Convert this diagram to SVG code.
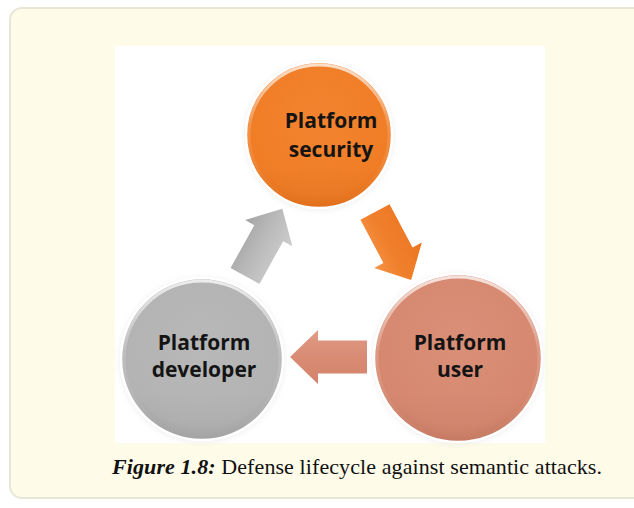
<svg xmlns="http://www.w3.org/2000/svg" width="634" height="508" viewBox="0 0 634 508">
  <defs>
    <style>
      .label { font-family: "Open Sans", "Liberation Sans", sans-serif; font-weight: 700; font-size: 21px; fill: #141414; text-anchor: middle; }
      .caption { font-family: "Liberation Serif", "DejaVu Serif", serif; font-size: 22px; fill: #111111; }
      .caption-lead { font-weight: 700; font-style: italic; }
      .rim { fill: none; stroke: url(#rimLight); stroke-width: 3; }
      .edge { fill: none; stroke: #ffffff; stroke-width: 2.5; }
      .shade { fill: url(#shadeLow); }
    </style>

    <!-- circle fills -->
    <radialGradient id="fillOrange" cx="0.5" cy="0.4" r="0.6">
      <stop offset="0" stop-color="#f3842f"/>
      <stop offset="0.85" stop-color="#f07d26"/>
      <stop offset="1" stop-color="#ea731c"/>
    </radialGradient>
    <radialGradient id="fillPink" cx="0.5" cy="0.4" r="0.6">
      <stop offset="0" stop-color="#da8f78"/>
      <stop offset="0.85" stop-color="#d6886f"/>
      <stop offset="1" stop-color="#cd7e66"/>
    </radialGradient>
    <radialGradient id="fillGrey" cx="0.5" cy="0.4" r="0.6">
      <stop offset="0" stop-color="#b8b8b8"/>
      <stop offset="0.85" stop-color="#b3b3b3"/>
      <stop offset="1" stop-color="#a8a8a8"/>
    </radialGradient>

    <!-- glossy bevel: bright upper rim fading out toward the bottom -->
    <linearGradient id="rimLight" x1="0" y1="0" x2="0" y2="1">
      <stop offset="0" stop-color="#ffffff" stop-opacity="0.75"/>
      <stop offset="0.45" stop-color="#ffffff" stop-opacity="0.15"/>
      <stop offset="1" stop-color="#ffffff" stop-opacity="0"/>
    </linearGradient>
    <linearGradient id="shadeLow" x1="0" y1="0" x2="0" y2="1">
      <stop offset="0" stop-color="#000000" stop-opacity="0"/>
      <stop offset="0.7" stop-color="#000000" stop-opacity="0"/>
      <stop offset="1" stop-color="#000000" stop-opacity="0.04"/>
    </linearGradient>

    <!-- arrow fills, running across the shaft width -->
    <linearGradient id="arrowOrange" x1="0" y1="0" x2="0" y2="1">
      <stop offset="0" stop-color="#ec7622"/>
      <stop offset="0.6" stop-color="#f0802c"/>
      <stop offset="1" stop-color="#f69446"/>
    </linearGradient>
    <linearGradient id="arrowPink" x1="0" y1="0" x2="0" y2="1">
      <stop offset="0" stop-color="#d3836c"/>
      <stop offset="0.5" stop-color="#d98b74"/>
      <stop offset="1" stop-color="#e09b86"/>
    </linearGradient>
    <linearGradient id="arrowGrey" x1="0" y1="0" x2="0" y2="1">
      <stop offset="0" stop-color="#a4a4a4"/>
      <stop offset="0.45" stop-color="#b9b9b9"/>
      <stop offset="1" stop-color="#cdcdcd"/>
    </linearGradient>

    <!-- block arrow pointing along +x, length 77 -->
    <path id="blockArrow" d="M0,-16.5 H49 V-27 L77,0 L49,27 V16.5 H0 Z"/>

    <filter id="halo" x="-20%" y="-20%" width="140%" height="140%">
      <feGaussianBlur stdDeviation="3"/>
    </filter>
  </defs>

  <!-- panel -->
  <rect x="10" y="8" width="640" height="490" rx="12" ry="12" fill="#fefbe9" stroke="#e9e6d8" stroke-width="2"/>
  <rect x="115" y="46" width="430" height="397" fill="#ffffff"/>

  <!-- connectors -->
  <g id="connectors">
    <use href="#blockArrow" fill="url(#arrowOrange)" transform="translate(375,212) rotate(62)"/>
    <use href="#blockArrow" fill="url(#arrowPink)" transform="translate(367,357) rotate(180)"/>
    <use href="#blockArrow" fill="url(#arrowGrey)" transform="translate(245,276) rotate(-61)"/>
  </g>

  <!-- nodes -->
  <g id="node-security">
    <circle cx="319" cy="136" r="74" fill="#dcdcdc" opacity="0.5" filter="url(#halo)"/>
    <circle cx="319" cy="135" r="73" fill="url(#fillOrange)"/>
    <circle class="shade" cx="319" cy="135" r="73"/>
    <circle class="rim" cx="319" cy="135" r="70"/>
    <circle class="edge" cx="319" cy="135" r="73"/>
    <text class="label" x="331" y="128">Platform</text>
    <text class="label" x="331" y="157">security</text>
  </g>

  <g id="node-user">
    <circle cx="458" cy="359" r="85" fill="#dcdcdc" opacity="0.5" filter="url(#halo)"/>
    <circle cx="458" cy="358" r="84" fill="url(#fillPink)"/>
    <circle class="shade" cx="458" cy="358" r="84"/>
    <circle class="rim" cx="458" cy="358" r="81"/>
    <circle class="edge" cx="458" cy="358" r="84"/>
    <text class="label" x="460" y="350">Platform</text>
    <text class="label" x="460" y="377">user</text>
  </g>

  <g id="node-developer">
    <circle cx="202" cy="360" r="82" fill="#dcdcdc" opacity="0.5" filter="url(#halo)"/>
    <circle cx="202" cy="359" r="81" fill="url(#fillGrey)"/>
    <circle class="shade" cx="202" cy="359" r="81"/>
    <circle class="rim" cx="202" cy="359" r="78"/>
    <circle class="edge" cx="202" cy="359" r="81"/>
    <text class="label" x="204" y="350">Platform</text>
    <text class="label" x="204" y="377">developer</text>
  </g>

  <!-- caption -->
  <text class="caption" x="112" y="474" textLength="490" lengthAdjust="spacing"><tspan class="caption-lead">Figure 1.8:</tspan> Defense lifecycle against semantic attacks.</text>
</svg>
